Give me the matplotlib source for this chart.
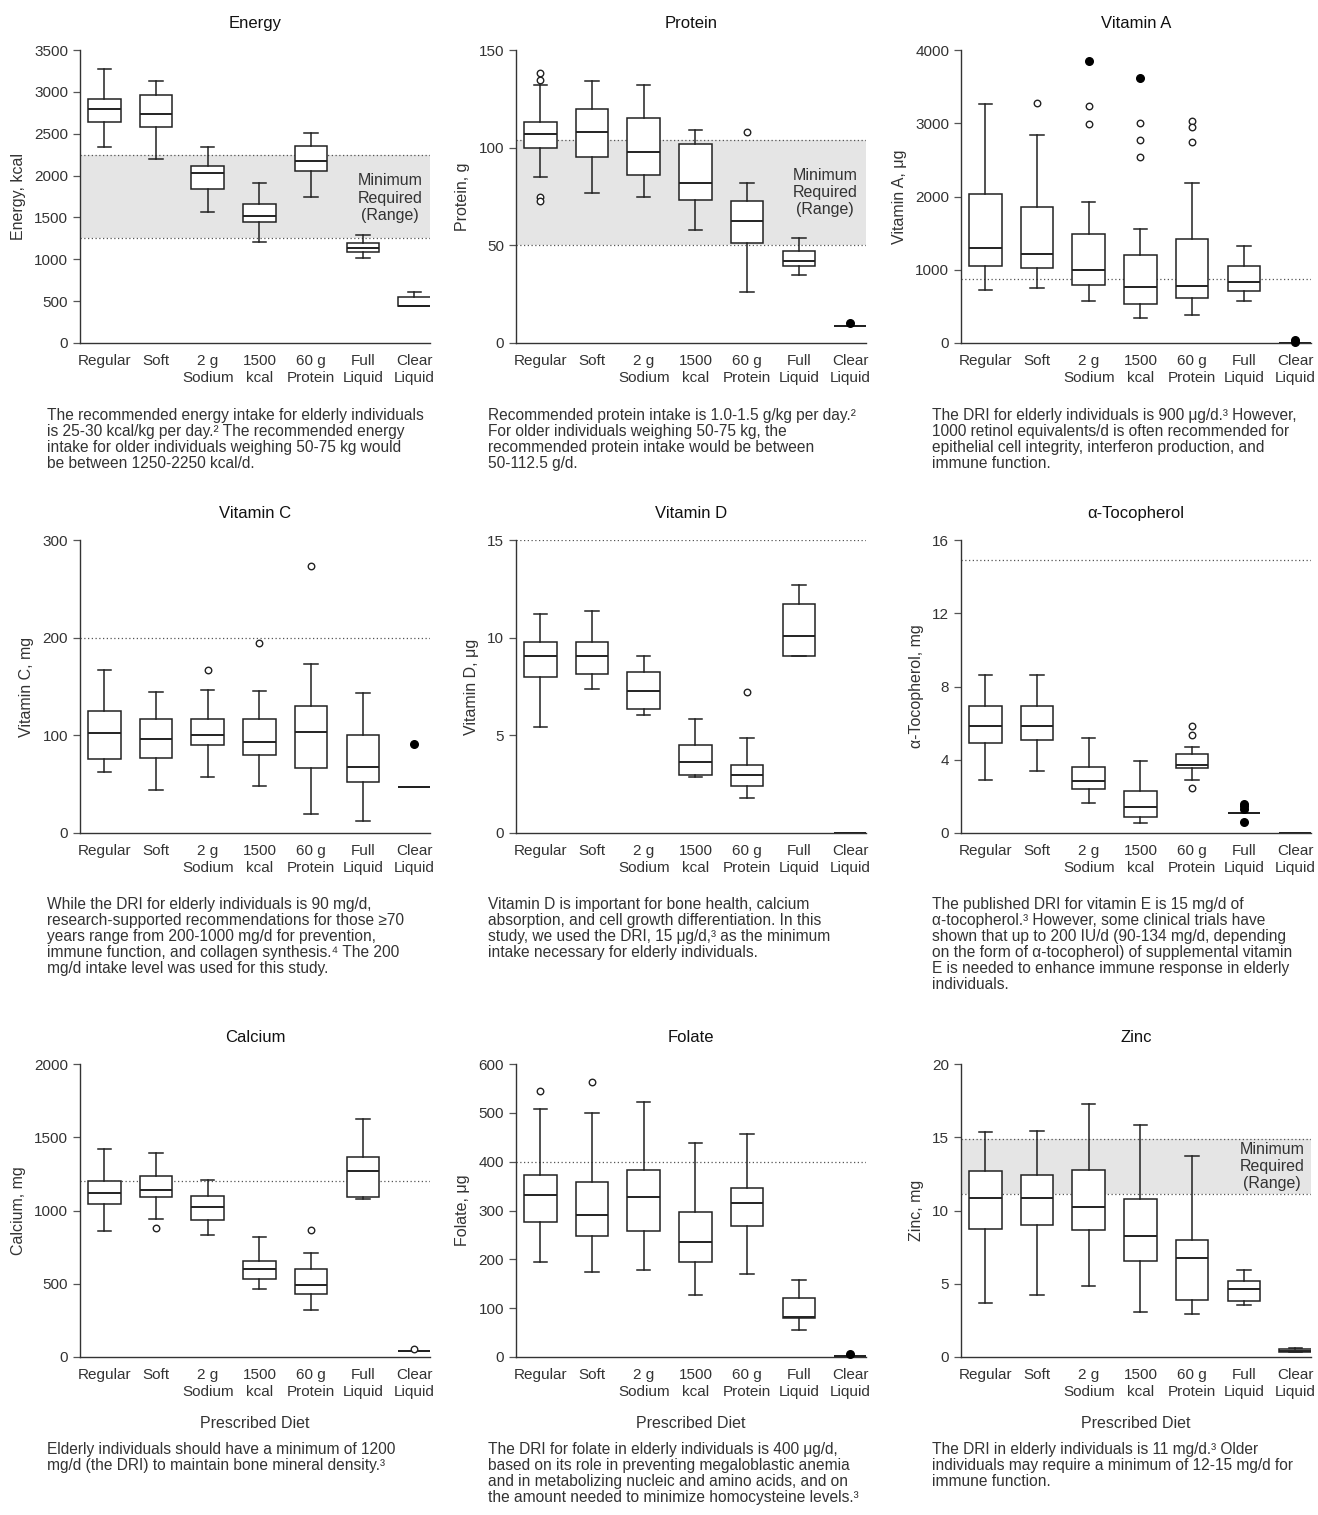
import matplotlib.pyplot as plt

plt.rcParams['font.family'] = ['Liberation Sans', 'DejaVu Sans']

diets = ["Regular", "Soft", "2 g\nSodium", "1500\nkcal", "60 g\nProtein", "Full\nLiquid", "Clear\nLiquid"]

# box stats per diet: whislo, q1, median, q3, whishi
energy = [[2340, 2640, 2800, 2920, 3270],
          [2200, 2580, 2740, 2960, 3130],
          [1570, 1840, 2030, 2120, 2340],
          [1205, 1450, 1520, 1660, 1910],
          [1740, 2060, 2170, 2350, 2510],
          [1020, 1090, 1140, 1190, 1285],
          [445, 445, 445, 550, 610]]
energy_open = {}
energy_filled = {}

protein = [[85, 100, 107, 113, 132],
           [77, 95, 108, 120, 134],
           [75, 86, 98, 115, 132],
           [58, 73, 82, 102, 109],
           [26, 51, 62.5, 72.5, 82],
           [35, 39.5, 42, 47, 54],
           [8.5, 8.5, 8.5, 8.5, 8.5]]
protein_open = {0: [138, 134.5, 75, 72.5], 4: [108]}
protein_filled = {6: [10.2]}

vit_a = [[720, 1050, 1300, 2040, 3260],
         [745, 1025, 1210, 1855, 2840],
         [570, 790, 990, 1490, 1920],
         [340, 530, 770, 1195, 1560],
         [380, 620, 780, 1425, 2190],
         [575, 705, 835, 1055, 1320],
         [5, 5, 5, 5, 5]]
vit_a_open = {1: [3280], 2: [3230, 2995], 3: [3000, 2765, 2535], 4: [3030, 2945, 2745]}
vit_a_filled = {2: [3855], 3: [3620], 6: [40, 15]}

vit_c = [[62, 76, 102, 125, 167],
         [44, 77, 96, 117, 144],
         [57, 90, 100, 117, 146],
         [48, 80, 93, 117, 145],
         [19, 67, 103, 130, 173],
         [12, 52, 68, 100, 143],
         [47, 47, 47, 47, 47]]
vit_c_open = {2: [167], 3: [195], 4: [273]}
vit_c_filled = {6: [91]}

vit_d = [[5.45, 8.0, 9.05, 9.78, 11.2],
         [7.35, 8.15, 9.07, 9.77, 11.35],
         [6.03, 6.35, 7.28, 8.23, 9.04],
         [2.85, 2.98, 3.61, 4.48, 5.83],
         [1.81, 2.4, 2.95, 3.48, 4.88],
         [9.07, 9.07, 10.1, 11.71, 12.72],
         [0.02, 0.02, 0.02, 0.02, 0.02]]
vit_d_open = {4: [7.23]}
vit_d_filled = {}

toco = [[2.89, 4.9, 5.83, 6.91, 8.64],
        [3.4, 5.07, 5.87, 6.91, 8.64],
        [1.65, 2.38, 2.84, 3.58, 5.2],
        [0.55, 0.85, 1.42, 2.31, 3.93],
        [2.89, 3.55, 3.69, 4.29, 4.71],
        [1.11, 1.11, 1.11, 1.11, 1.11],
        [0.02, 0.02, 0.02, 0.02, 0.02]]
toco_open = {4: [5.85, 5.36, 2.45]}
toco_filled = {5: [1.58, 1.45, 1.32, 0.58]}

calcium = [[857, 1043, 1120, 1202, 1423],
           [941, 1091, 1139, 1234, 1391],
           [832, 934, 1023, 1098, 1207],
           [461, 532, 598, 655, 816],
           [323, 427, 491, 598, 711],
           [1077, 1091, 1270, 1366, 1623],
           [41, 41, 41, 41, 41]]
calcium_open = {1: [882], 4: [868], 6: [57]}
calcium_filled = {}

folate = [[195, 277, 331, 372, 507],
          [175, 248, 290, 359, 499],
          [179, 258, 327, 383, 523],
          [127, 194, 236, 297, 438],
          [170, 268, 316, 347, 457],
          [56, 79, 81, 120, 157],
          [1.5, 1.5, 1.5, 1.5, 1.5]]
folate_open = {0: [545], 1: [563]}
folate_filled = {6: [6]}

zinc = [[3.66, 8.73, 10.82, 12.73, 15.34],
        [4.2, 8.98, 10.82, 12.45, 15.43],
        [4.82, 8.64, 10.25, 12.77, 17.3],
        [3.05, 6.55, 8.23, 10.8, 15.82],
        [2.95, 3.91, 6.75, 7.98, 13.73],
        [3.57, 3.82, 4.64, 5.2, 5.91],
        [0.34, 0.34, 0.43, 0.55, 0.61]]
zinc_open = {}
zinc_filled = {}

captions = [
    "The recommended energy intake for elderly individuals\nis 25-30 kcal/kg per day.\u00b2 The recommended energy\nintake for older individuals weighing 50-75 kg would\nbe between 1250-2250 kcal/d.",
    "Recommended protein intake is 1.0-1.5 g/kg per day.\u00b2\nFor older individuals weighing 50-75 kg, the\nrecommended protein intake would be between\n50-112.5 g/d.",
    "The DRI for elderly individuals is 900 \u03bcg/d.\u00b3 However,\n1000 retinol equivalents/d is often recommended for\nepithelial cell integrity, interferon production, and\nimmune function.",
    "While the DRI for elderly individuals is 90 mg/d,\nresearch-supported recommendations for those \u226570\nyears range from 200-1000 mg/d for prevention,\nimmune function, and collagen synthesis.\u2074 The 200\nmg/d intake level was used for this study.",
    "Vitamin D is important for bone health, calcium\nabsorption, and cell growth differentiation. In this\nstudy, we used the DRI, 15 \u03bcg/d,\u00b3 as the minimum\nintake necessary for elderly individuals.",
    "The published DRI for vitamin E is 15 mg/d of\n\u03b1-tocopherol.\u00b3 However, some clinical trials have\nshown that up to 200 IU/d (90-134 mg/d, depending\non the form of \u03b1-tocopherol) of supplemental vitamin\nE is needed to enhance immune response in elderly\nindividuals.",
    "Elderly individuals should have a minimum of 1200\nmg/d (the DRI) to maintain bone mineral density.\u00b3",
    "The DRI for folate in elderly individuals is 400 \u03bcg/d,\nbased on its role in preventing megaloblastic anemia\nand in metabolizing nucleic and amino acids, and on\nthe amount needed to minimize homocysteine levels.\u00b3",
    "The DRI in elderly individuals is 11 mg/d.\u00b3 Older\nindividuals may require a minimum of 12-15 mg/d for\nimmune function.",
]

# title, ylabel, stats, open, filled, yticks, reference (line value or band tuple), band text (x, y)
panels = [
    ("Energy", "Energy, kcal", energy, energy_open, energy_filled, [0, 500, 1000, 1500, 2000, 2500, 3000, 3500], (1250, 2250), (6.53, 1730)),
    ("Protein", "Protein, g", protein, protein_open, protein_filled, [0, 50, 100, 150], (50, 104), (6.51, 77)),
    ("Vitamin A", "Vitamin A, \u03bcg", vit_a, vit_a_open, vit_a_filled, [0, 1000, 2000, 3000, 4000], 870, None),
    ("Vitamin C", "Vitamin C, mg", vit_c, vit_c_open, vit_c_filled, [0, 100, 200, 300], 200, None),
    ("Vitamin D", "Vitamin D, \u03bcg", vit_d, vit_d_open, vit_d_filled, [0, 5, 10, 15], 15, None),
    ("\u03b1-Tocopherol", "\u03b1-Tocopherol, mg", toco, toco_open, toco_filled, [0, 4, 8, 12, 16], 14.9, None),
    ("Calcium", "Calcium, mg", calcium, calcium_open, calcium_filled, [0, 500, 1000, 1500, 2000], 1200, None),
    ("Folate", "Folate, \u03bcg", folate, folate_open, folate_filled, [0, 100, 200, 300, 400, 500, 600], 400, None),
    ("Zinc", "Zinc, mg", zinc, zinc_open, zinc_filled, [0, 5, 10, 15, 20], (11.1, 14.9), (6.55, 13.0)),
]

W, H = 1318, 1515
fig = plt.figure(figsize=(W / 100, H / 100), dpi=100)

col_left = [80, 516, 961]
row_top = [50, 540, 1064]
cap_x = [47, 488, 932]
cap_y = [408, 897, 1442]
ax_w, ax_h = 350, 293
ink = "#222222"
dot = (0, (1, 2))

for i, (title, ylab, stats, opn, fil, yt, ref, txt) in enumerate(panels):
    r, c = divmod(i, 3)
    ax = fig.add_axes([col_left[c] / W, (H - row_top[r] - ax_h) / H, ax_w / W, ax_h / H])

    bstats = []
    for d, s in zip(diets, stats):
        bstats.append(dict(label=d, whislo=s[0], q1=s[1], med=s[2], q3=s[3], whishi=s[4], fliers=[]))
    ax.bxp(bstats, positions=range(1, 8), widths=0.63, capwidths=0.26, patch_artist=True,
           showfliers=False,
           boxprops=dict(facecolor="white", edgecolor=ink, linewidth=1.1),
           medianprops=dict(color=ink, linewidth=1.4),
           whiskerprops=dict(color=ink, linewidth=1.1),
           capprops=dict(color=ink, linewidth=1.1), zorder=3)

    for k, vals in opn.items():
        ax.scatter([k + 1] * len(vals), vals, s=22, facecolors="white", edgecolors=ink,
                   linewidths=1.0, zorder=4, clip_on=False)
    for k, vals in fil.items():
        ax.scatter([k + 1] * len(vals), vals, s=30, color="black", zorder=4, clip_on=False)

    if isinstance(ref, tuple):
        ax.axhspan(ref[0], ref[1], color="#e5e5e5", lw=0, zorder=0)
        for v in ref:
            ax.axhline(v, color="#555555", lw=0.9, ls=dot, zorder=1)
    else:
        ax.axhline(ref, color="#555555", lw=0.9, ls=dot, zorder=1)
    if txt is not None:
        ax.text(txt[0], txt[1], "Minimum\nRequired\n(Range)", ha="center", va="center",
                fontsize=11.5, color="#333333", linespacing=1.2, zorder=2)

    ax.set_xlim(0.53, 7.3)
    ax.set_ylim(yt[0], yt[-1])
    ax.set_yticks(yt)
    ax.set_xticks(range(1, 8))
    ax.set_xticklabels(diets, fontsize=11, color="#333333", linespacing=1.25)
    ax.tick_params(axis="x", length=0, pad=8)
    ax.tick_params(axis="y", length=5, width=0.9, colors="#555555", labelcolor="#333333",
                   labelsize=11, direction="out")
    for sp in ["top", "right"]:
        ax.spines[sp].set_visible(False)
    for sp in ["left", "bottom"]:
        ax.spines[sp].set_color("#333333")
        ax.spines[sp].set_linewidth(1.0)
    ax.set_title(title, fontsize=12, color="#111111", pad=16)
    ax.set_ylabel(ylab, fontsize=11.5, color="#333333", labelpad=6)
    if r == 2:
        ax.set_xlabel("Prescribed Diet", fontsize=11.5, color="#333333", labelpad=12)

    fig.text(cap_x[c] / W, 1 - cap_y[r] / H, captions[i], ha="left", va="top",
             fontsize=11.2, color="#333333", linespacing=1.08)

fig.savefig("out.png", dpi=100, facecolor="white")
